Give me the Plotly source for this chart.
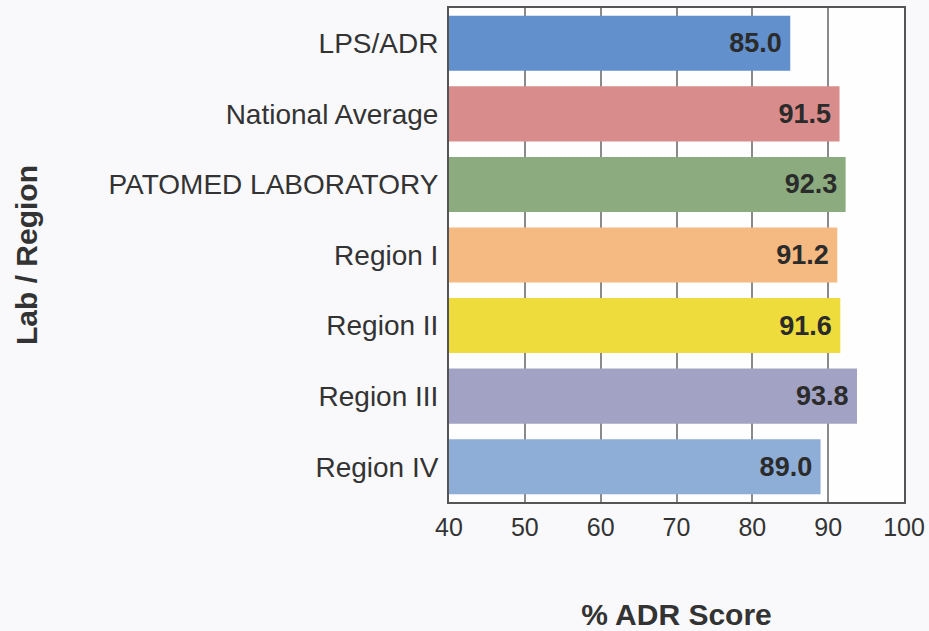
import plotly.graph_objects as go

categories = ["LPS/ADR", "National Average", "PATOMED LABORATORY",
              "Region I", "Region II", "Region III", "Region IV"]
scores = [85.0, 91.5, 92.3, 91.2, 91.6, 93.8, 89.0]
bar_colors = ["#6190cc", "#d98c8c", "#8cac80", "#f5b982",
              "#eedc3c", "#a1a2c4", "#8eadd7"]
x_ticks = [40, 50, 60, 70, 80, 90, 100]

FONT = "Liberation Sans, Arial, sans-serif"

fig = go.Figure(go.Bar(
    y=categories,
    x=scores,
    orientation="h",
    marker=dict(color=bar_colors, line=dict(width=0)),
    text=[f"<b>{v:.1f}</b>\u2009" for v in scores],
    textposition="inside",
    insidetextanchor="end",
    constraintext="none",
    textfont=dict(family=FONT, size=27, color="#2b2b2b"),
    hoverinfo="x+y",
))

fig.update_layout(
    width=929, height=631,
    margin=dict(l=449, r=25, t=8, b=129, autoexpand=False),
    paper_bgcolor="#f9f9fc",
    plot_bgcolor="#fefefe",
    bargap=0.22,
    showlegend=False,
    font=dict(family=FONT, color="#333333"),
)

fig.update_xaxes(
    range=[40, 100],
    tickvals=x_ticks,
    ticktext=[str(t) for t in x_ticks],
    tickfont=dict(size=25, color="#333333"),
    ticks="",
    ticklabelstandoff=2,
    showgrid=True, gridcolor="#8a8a8a", gridwidth=2,
    zeroline=False,
    showline=True, mirror=True, linecolor="#555555", linewidth=2,
    layer="below traces",
    title=dict(text="<b>% ADR Score</b>", font=dict(size=30, color="#333333"), standoff=66),
    automargin=False,
    fixedrange=True,
)

fig.update_yaxes(
    categoryorder="array",
    categoryarray=categories[::-1],
    tickfont=dict(size=28, color="#333333"),
    ticks="",
    ticklabelstandoff=3,
    showgrid=False,
    zeroline=False,
    showline=True, mirror=True, linecolor="#555555", linewidth=2,
    layer="below traces",
    title=dict(text="<b>Lab / Region</b>", font=dict(size=30, color="#333333"), standoff=62),
    automargin=False,
    fixedrange=True,
)

fig.write_html(
    "out.html",
    config={"displayModeBar": False},
    post_script="document.body.style.margin='0';document.body.style.overflow='hidden';",
)
